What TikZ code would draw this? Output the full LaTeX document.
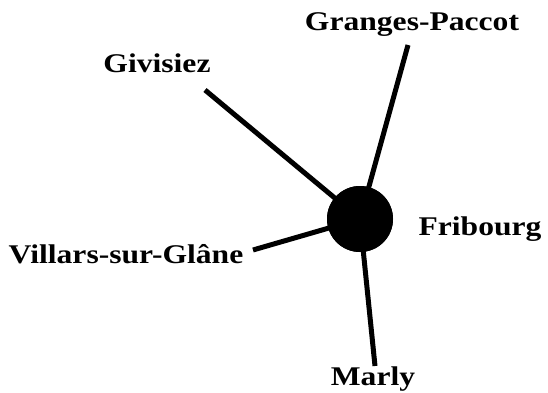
\documentclass[tikz,border=0pt]{standalone}
\usepackage{fontspec}
\setmainfont{Liberation Serif}[FakeStretch=1.17]
\begin{document}
\begin{tikzpicture}[x=1pt,y=1pt,
  lab/.style={inner sep=0pt,anchor=base,font=\fontsize{27}{31}\selectfont\bfseries},
  edge/.style={line width=5pt}]
\useasboundingbox (0,0) rectangle (548,392);
\node[circle,fill=black,minimum size=66pt,inner sep=0pt] (fr) at (360,173) {};
\coordinate (gp) at (408,347);
\coordinate (gv) at (205,302);
\coordinate (vs) at (253,142);
\coordinate (ma) at (375,26);
\draw[edge] (gp) -- (fr.center);
\draw[edge] (gv) -- (fr.center);
\draw[edge] (vs) -- (fr.center);
\draw[edge] (ma) -- (fr.center);
\fill (fr.center) circle (33pt);
\node[lab] (tgp) at (412,362) {Granges-Paccot};
\node[lab] (tgv) at (157,320) {Givisiez};
\node[lab] (tvs) at (126,129) {Villars-sur-Glâne};
\node[lab] (tfr) at (480,157) {Fribourg};
\node[lab] (tma) at (373,7) {Marly};
\end{tikzpicture}
\end{document}
